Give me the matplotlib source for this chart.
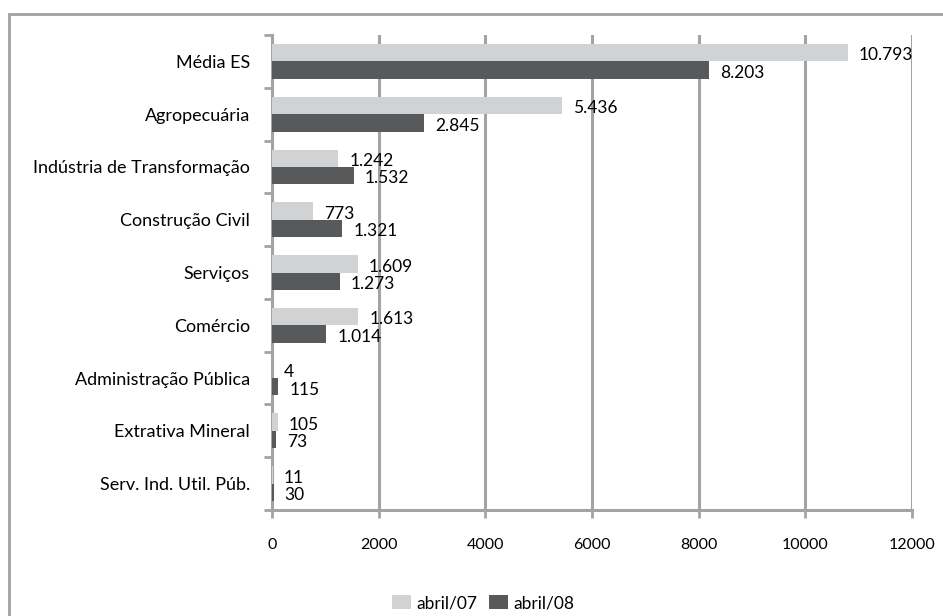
import numpy as np
import matplotlib.pyplot as plt
from matplotlib.patches import Rectangle

categories = ["Média ES", "Agropecuária", "Indústria de Transformação",
              "Construção Civil", "Serviços", "Comércio",
              "Administração Pública", "Extrativa Mineral", "Serv. Ind. Util. Púb."]
abr07 = [10793, 5436, 1242, 773, 1609, 1613, 4, 105, 11]
abr08 = [8203, 2845, 1532, 1321, 1273, 1014, 115, 73, 30]
xticks = [0, 2000, 4000, 6000, 8000, 10000, 12000]


def fmt(v):
    return "{:,}".format(v).replace(",", ".")


plt.rcParams['font.family'] = ['Lato', 'DejaVu Sans']

fig = plt.figure(figsize=(9.43, 6.16), dpi=100)
ax = fig.add_axes([272 / 943, 1 - 510 / 616, 640 / 943, 475 / 616])

grid_c = "#a3a3a3"
light = "#d1d2d4"
dark = "#58595b"
h = 0.33

y = np.arange(len(categories))[::-1].astype(float)
b1 = ax.barh(y + h / 2, abr07, height=h, color=light, label="abril/07", zorder=3)
b2 = ax.barh(y - h / 2, abr08, height=h, color=dark, label="abril/08", zorder=3)

for yy, v in zip(y, abr07):
    ax.annotate(fmt(v), (v, yy + h / 2), xytext=(8, -2), textcoords="offset points",
                va="center", ha="left", fontsize=12.5, zorder=4)
for yy, v in zip(y, abr08):
    ax.annotate(fmt(v), (v, yy - h / 2), xytext=(8, -2), textcoords="offset points",
                va="center", ha="left", fontsize=12.5, zorder=4)

ax.set_xlim(0, 12000)
ax.set_ylim(-0.5, len(categories) - 0.5)
ax.set_xticks(xticks)
ax.set_xticklabels([str(t) for t in xticks], fontsize=11.5)
ax.set_yticks(y)
ax.set_yticklabels(categories, fontsize=13)
ax.set_yticks(np.arange(len(categories) + 1) - 0.5, minor=True)
ax.tick_params(axis="y", which="major", length=0, pad=16)
ax.tick_params(axis="y", which="minor", length=6, width=2, color=grid_c)
ax.tick_params(axis="x", which="major", length=6, width=2, color=grid_c, pad=14)

ax.grid(axis="x", color=grid_c, linewidth=2.2, zorder=0)
for s in ["top", "right"]:
    ax.spines[s].set_visible(False)
for s in ["left", "bottom"]:
    ax.spines[s].set_color(grid_c)
    ax.spines[s].set_linewidth(2.2)

fig.legend(handles=[b1, b2], loc="center", bbox_to_anchor=(483 / 943, 1 - 603 / 616),
           ncol=2, frameon=False, fontsize=12.5, handlelength=1.1, handleheight=0.9,
           handletextpad=0.3, columnspacing=0.7)

# outer chart frame (runs off the right and bottom edges)
fig.patches.append(Rectangle((9 / 943, -10 / 616), 960 / 943, 612 / 616,
                             transform=fig.transFigure, fill=False,
                             edgecolor="#a0a0a0", linewidth=2))

fig.savefig("out.png", dpi=100)
